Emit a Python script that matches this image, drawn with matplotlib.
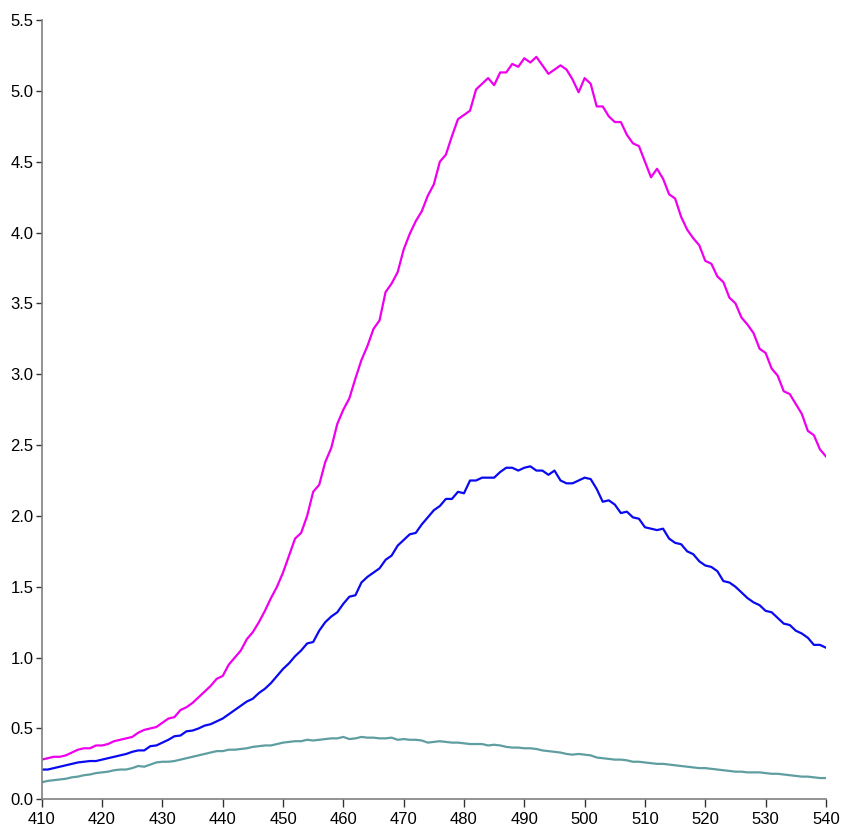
import matplotlib.pyplot as plt
import numpy as np

plt.rcParams['font.family'] = ['Liberation Sans', 'DejaVu Sans']

wavelength = np.arange(410, 541)

magenta = [0.28, 0.29, 0.30, 0.30, 0.31, 0.33, 0.35, 0.36, 0.36, 0.38,
           0.38, 0.39, 0.41, 0.42, 0.43, 0.44, 0.47, 0.49, 0.50, 0.51,
           0.54, 0.57, 0.58, 0.63, 0.65, 0.68, 0.72, 0.76, 0.80, 0.85,
           0.87, 0.95, 1.00, 1.05, 1.13, 1.18, 1.25, 1.33, 1.42, 1.50,
           1.60, 1.72, 1.84, 1.88, 2.00, 2.17, 2.22, 2.38, 2.48, 2.65,
           2.75, 2.83, 2.97, 3.10, 3.20, 3.32, 3.38, 3.58, 3.64, 3.72,
           3.88, 3.99, 4.08, 4.15, 4.26, 4.34, 4.50, 4.55, 4.68, 4.80,
           4.83, 4.86, 5.01, 5.05, 5.09, 5.04, 5.13, 5.13, 5.19, 5.17,
           5.23, 5.20, 5.24, 5.18, 5.12, 5.15, 5.18, 5.15, 5.08, 4.99,
           5.09, 5.05, 4.89, 4.89, 4.82, 4.78, 4.78, 4.69, 4.63, 4.61,
           4.50, 4.39, 4.45, 4.38, 4.27, 4.24, 4.11, 4.02, 3.96, 3.91,
           3.80, 3.78, 3.69, 3.65, 3.54, 3.50, 3.40, 3.35, 3.29, 3.18,
           3.15, 3.04, 2.99, 2.88, 2.86, 2.79, 2.72, 2.60, 2.57, 2.47,
           2.42]

blue = [0.21, 0.21, 0.22, 0.23, 0.24, 0.25, 0.26, 0.265, 0.27, 0.27,
        0.28, 0.29, 0.30, 0.31, 0.32, 0.335, 0.345, 0.345, 0.375, 0.38,
        0.40, 0.42, 0.445, 0.45, 0.48, 0.485, 0.50, 0.52, 0.53, 0.55,
        0.57, 0.60, 0.63, 0.66, 0.69, 0.71, 0.75, 0.78, 0.82, 0.87,
        0.92, 0.96, 1.01, 1.05, 1.10, 1.11, 1.19, 1.25, 1.29, 1.32,
        1.38, 1.43, 1.44, 1.53, 1.57, 1.60, 1.63, 1.69, 1.72, 1.79,
        1.83, 1.87, 1.88, 1.94, 1.99, 2.04, 2.07, 2.12, 2.12, 2.17,
        2.16, 2.25, 2.25, 2.27, 2.27, 2.27, 2.31, 2.34, 2.34, 2.32,
        2.34, 2.35, 2.32, 2.32, 2.29, 2.32, 2.25, 2.23, 2.23, 2.25,
        2.27, 2.26, 2.19, 2.10, 2.11, 2.08, 2.02, 2.03, 1.99, 1.98,
        1.92, 1.91, 1.90, 1.91, 1.84, 1.81, 1.80, 1.75, 1.73, 1.68,
        1.65, 1.64, 1.61, 1.54, 1.53, 1.50, 1.46, 1.42, 1.39, 1.37,
        1.33, 1.32, 1.28, 1.24, 1.23, 1.19, 1.17, 1.14, 1.09, 1.09,
        1.07]

teal = [0.12, 0.13, 0.135, 0.14, 0.145, 0.155, 0.16, 0.17, 0.175, 0.185,
        0.19, 0.195, 0.205, 0.21, 0.21, 0.22, 0.235, 0.23, 0.245, 0.26,
        0.265, 0.265, 0.27, 0.28, 0.29, 0.30, 0.31, 0.32, 0.33, 0.34,
        0.34, 0.35, 0.35, 0.355, 0.36, 0.37, 0.375, 0.38, 0.38, 0.39,
        0.40, 0.405, 0.41, 0.41, 0.42, 0.415, 0.42, 0.425, 0.43, 0.43,
        0.44, 0.425, 0.43, 0.44, 0.435, 0.435, 0.43, 0.43, 0.435, 0.42,
        0.425, 0.42, 0.42, 0.415, 0.40, 0.405, 0.41, 0.405, 0.40, 0.40,
        0.395, 0.39, 0.39, 0.39, 0.38, 0.385, 0.38, 0.37, 0.365, 0.365,
        0.36, 0.36, 0.355, 0.345, 0.34, 0.335, 0.33, 0.32, 0.315, 0.32,
        0.315, 0.31, 0.295, 0.29, 0.285, 0.28, 0.28, 0.275, 0.265, 0.265,
        0.26, 0.255, 0.25, 0.25, 0.245, 0.24, 0.235, 0.23, 0.225, 0.22,
        0.22, 0.215, 0.21, 0.205, 0.20, 0.195, 0.195, 0.19, 0.19, 0.19,
        0.185, 0.18, 0.18, 0.175, 0.17, 0.165, 0.16, 0.16, 0.155, 0.15,
        0.15]

x_ticks = np.arange(410, 541, 10)
y_ticks = np.arange(0, 5.51, 0.5)

fig = plt.figure(figsize=(8.41, 8.27), dpi=100)
ax = fig.add_axes([0.0496, 0.0335, 0.9325, 0.9423])

ax.plot(wavelength, teal, color='#5f9ea0', linewidth=1.6)
ax.plot(wavelength, blue, color='#0a0af0', linewidth=1.6)
ax.plot(wavelength, magenta, color='#ee00ee', linewidth=1.6)

ax.set_xlim(410, 540)
ax.set_ylim(0, 5.5)
ax.set_xticks(x_ticks)
ax.set_yticks(y_ticks)
ax.set_yticklabels([f'{v:.1f}' for v in y_ticks])

for side in ['top', 'right']:
    ax.spines[side].set_visible(False)
for side in ['left', 'bottom']:
    ax.spines[side].set_color('#808080')
    ax.spines[side].set_linewidth(1.2)

ax.tick_params(axis='both', width=1, color='#333333', labelsize=12)
ax.tick_params(axis='x', length=6, pad=3)
ax.tick_params(axis='y', length=4.5, pad=1.5)

fig.savefig('out.png', dpi=100)
